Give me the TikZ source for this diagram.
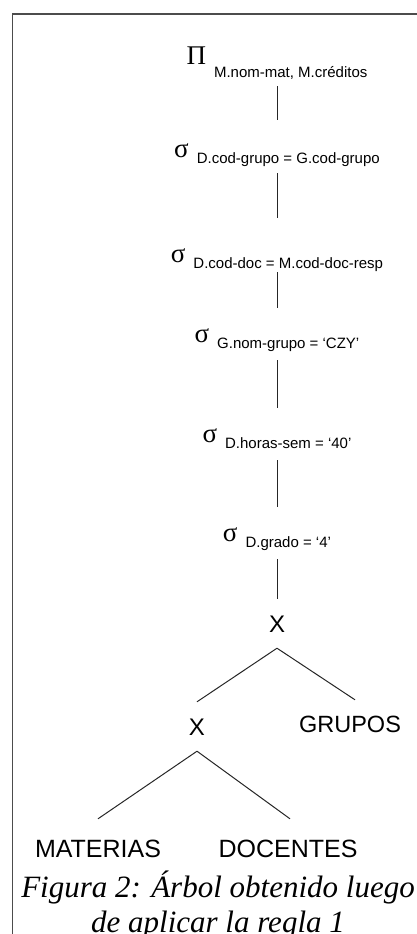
\documentclass[tikz,border=0pt]{standalone}
\usepackage{fontspec}
\setmainfont{Liberation Sans}
\newfontfamily\greekfont{Liberation Serif}
\newfontfamily\capfont{Liberation Serif}
\usetikzlibrary{positioning}

% operator symbol and its lowered condition
\newcommand{\opsize}{\greekfont\fontsize{27pt}{30pt}\selectfont}
\newcommand{\condsize}{\fontsize{15pt}{18pt}\selectfont}
\newcommand{\proj}[1]{{\opsize Π}\hspace{8pt}\raisebox{-13pt}{\condsize #1}}
\newcommand{\sel}[1]{{\opsize σ}\hspace{8pt}\raisebox{-6pt}{\condsize #1}}

\tikzset{
  frameline/.style={draw=black!70, line width=1.3pt},
  edge/.style={draw=black!85, line width=1pt},
  opnode/.style={inner sep=0pt, text height=34pt, text depth=18pt, anchor=base},
  joinnode/.style={font=\fontsize{24pt}{28pt}\selectfont, inner xsep=0pt,
                   inner ysep=16pt, text height=17pt, text depth=0pt, anchor=base},
  relnode/.style={font=\fontsize{25pt}{30pt}\selectfont, inner xsep=0pt,
                  inner ysep=20pt, text height=18pt, text depth=0pt, anchor=base},
  captext/.style={font=\capfont\itshape\fontsize{31pt}{35pt}\selectfont,
                  align=center, inner sep=0pt, anchor=base},
}

\begin{document}
\begin{tikzpicture}[x=1pt, y=-1pt]
  \clip (0,0) rectangle (417,934);
  \draw[frameline] (12.5,934) -- (12.5,14) -- (417,14);

  % selections pushed down the tree
  \node[opnode] (pi) at (277,65) {\proj{M.nom-mat, M.créditos}};
  \node[opnode] (s1) at (277,157) {\sel{D.cod-grupo = G.cod-grupo}};
  \node[opnode] (s2) at (277,262) {\sel{D.cod-doc = M.cod-doc-resp}};
  \node[opnode] (s3) at (277,342) {\sel{G.nom-grupo = ‘CZY’}};
  \node[opnode] (s4) at (277,442) {\sel{D.horas-sem = ‘40’}};
  \node[opnode] (s5) at (277,541) {\sel{D.grado = ‘4’}};

  % cartesian products and relations
  \node[joinnode] (x1) at (277,632) {X};
  \node[joinnode] (x2) at (197,735) {X};
  \node[relnode, font=\fontsize{23.5pt}{28pt}\selectfont, inner ysep=15pt, text height=17pt]
    (grupos) at (350,732) {GRUPOS};
  \node[relnode] (materias) at (98,857) {MATERIAS};
  \node[relnode] (docentes) at (288,857) {DOCENTES};

  % base anchor sits on the last line
  \node[captext] (cap) at (218,932) {Figura 2: Árbol obtenido luego\\de aplicar la regla 1};

  \foreach \a/\b/\s/\e in {pi/s1/3/3, s1/s2/-2/10, s2/s3/-8/0,
                           s3/s4/0/0, s4/s5/0/0, s5/x1/0/0}
    \draw[edge, shorten <=\s pt, shorten >=\e pt] (\a) -- (\b);

  \draw[edge] (x1.south) -- (x2.north);
  \draw[edge] (x1.south) -- ([xshift=5pt]grupos.north);
  \draw[edge] (x2.south) -- (materias.north);
  \draw[edge] (x2.south) -- ([xshift=2pt]docentes.north);
\end{tikzpicture}
\end{document}
